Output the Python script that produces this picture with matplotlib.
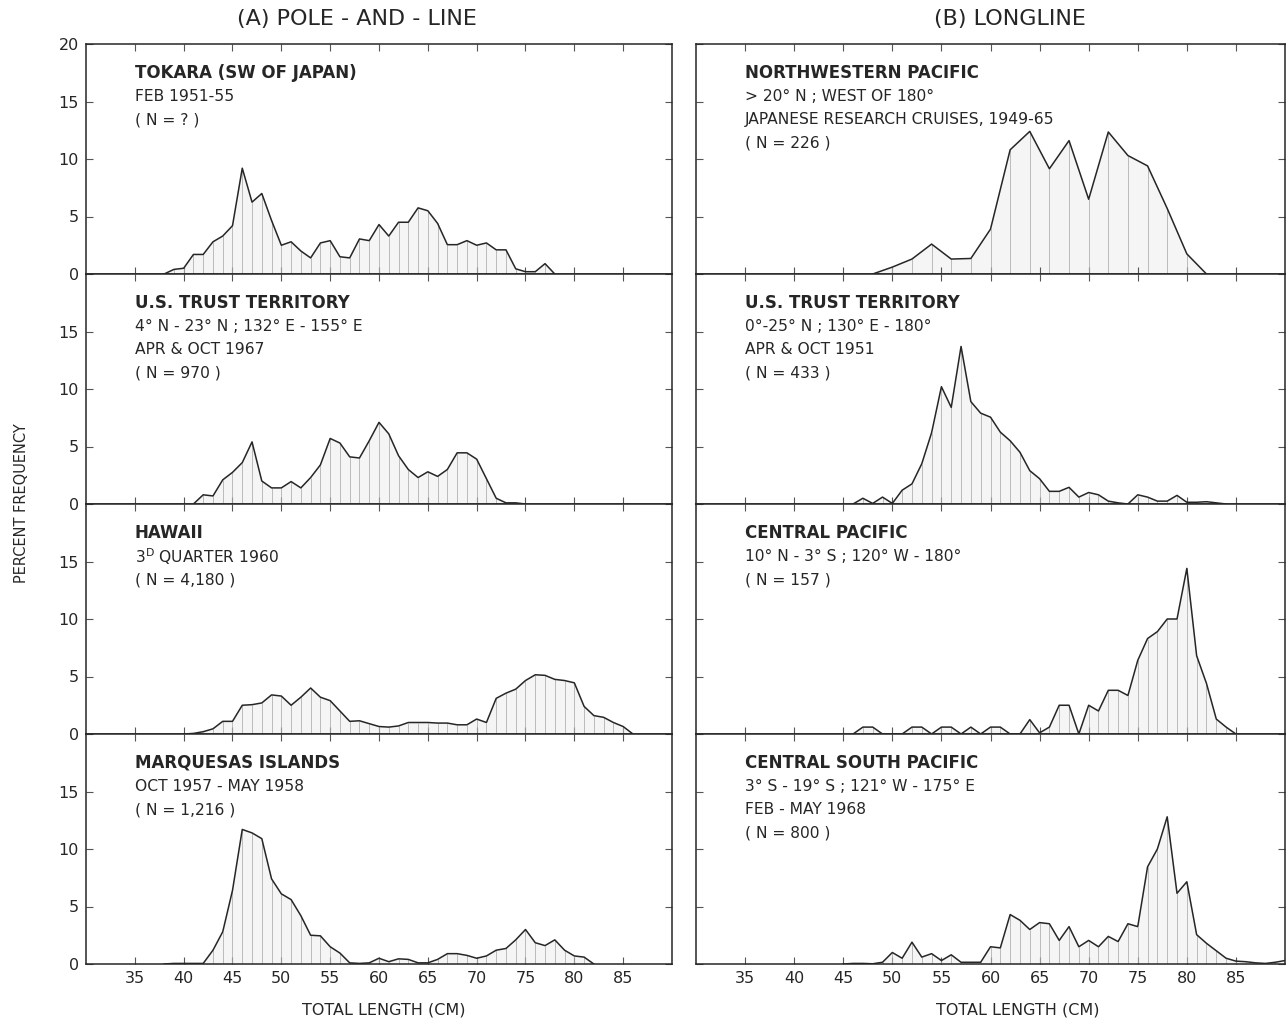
import numpy as np
import matplotlib
matplotlib.use("Agg")
import matplotlib.pyplot as plt

plt.rcParams['font.family'] = ['DejaVu Sans']

# ---- data: percent frequency by total length (cm) ----
tokara_x = list(range(38, 79))
tokara_y = [0, 0.4, 0.5, 1.7, 1.7, 2.8, 3.3, 4.2, 9.2, 6.25, 7.0, 4.65, 2.5, 2.8, 2.0, 1.4,
            2.7, 2.9, 1.5, 1.4, 3.05, 2.9, 4.3, 3.3, 4.5, 4.5, 5.75, 5.5, 4.4, 2.55, 2.55,
            2.9, 2.5, 2.7, 2.1, 2.1, 0.45, 0.2, 0.2, 0.9, 0]

trust67_x = list(range(41, 76))
trust67_y = [0, 0.8, 0.7, 2.1, 2.75, 3.6, 5.4, 2.0, 1.4, 1.4, 1.95, 1.4, 2.3, 3.4, 5.7, 5.3,
             4.1, 4.0, 5.5, 7.1, 6.1, 4.2, 3.0, 2.3, 2.8, 2.4, 3.0, 4.45, 4.45, 3.9, 2.2,
             0.5, 0.1, 0.1, 0]

hawaii_x = list(range(40, 87))
hawaii_y = [0, 0.05, 0.2, 0.45, 1.1, 1.1, 2.5, 2.55, 2.7, 3.4, 3.3, 2.5, 3.2, 4.0, 3.2, 2.9,
            2.0, 1.1, 1.15, 0.9, 0.65, 0.6, 0.7, 1.0, 1.0, 1.0, 0.95, 0.95, 0.8, 0.8, 1.3,
            1.0, 3.1, 3.55, 3.9, 4.65, 5.15, 5.1, 4.75, 4.65, 4.45, 2.4, 1.6, 1.45, 1.0,
            0.65, 0]

marq_x = list(range(38, 83))
marq_y = [0, 0.05, 0.05, 0.05, 0.05, 1.2, 2.8, 6.4, 11.7, 11.4, 10.9, 7.4, 6.1, 5.6, 4.2,
          2.5, 2.45, 1.5, 0.95, 0.1, 0.05, 0.1, 0.5, 0.2, 0.45, 0.4, 0.1, 0.1, 0.4, 0.9,
          0.9, 0.75, 0.5, 0.7, 1.2, 1.35, 2.1, 3.0, 1.85, 1.6, 2.1, 1.2, 0.7, 0.6, 0]

nwp_x = list(range(48, 83, 2))
nwp_y = [0, 0.6, 1.3, 2.6, 1.3, 1.35, 3.9, 10.8, 12.4, 9.15, 11.6, 6.5, 12.35, 10.3, 9.4,
         5.7, 1.75, 0]

trust51_x = list(range(46, 85))
trust51_y = [0, 0.5, 0.05, 0.6, 0.05, 1.2, 1.75, 3.5, 6.2, 10.2, 8.4, 13.7, 8.9, 7.9, 7.55,
             6.25, 5.5, 4.5, 2.9, 2.2, 1.1, 1.1, 1.45, 0.6, 1.0, 0.8, 0.25, 0.1, 0, 0.8,
             0.6, 0.25, 0.25, 0.75, 0.15, 0.15, 0.2, 0.1, 0]

cp_x = list(range(46, 86))
cp_y = [0, 0.6, 0.6, 0, 0, 0, 0.6, 0.6, 0, 0.6, 0.6, 0, 0.6, 0, 0.6, 0.6, 0, 0, 1.25, 0.1,
        0.6, 2.5, 2.5, 0, 2.5, 2.0, 3.8, 3.8, 3.35, 6.4, 8.3, 8.9, 10.0, 10.0, 14.4, 6.8,
        4.4, 1.3, 0.6, 0]

csp_x = list(range(45, 91))
csp_y = [0, 0.05, 0.05, 0.02, 0.15, 1.0, 0.5, 1.9, 0.6, 0.9, 0.3, 0.8, 0.15, 0.15, 0.15,
         1.5, 1.4, 4.3, 3.8, 3.0, 3.6, 3.5, 2.05, 3.25, 1.5, 2.05, 1.5, 2.4, 1.95, 3.5,
         3.25, 8.45, 10.0, 12.8, 6.15, 7.15, 2.55, 1.8, 1.15, 0.5, 0.25, 0.2, 0.1, 0.05,
         0.15, 0.3]

left_series = [(tokara_x, tokara_y), (trust67_x, trust67_y), (hawaii_x, hawaii_y), (marq_x, marq_y)]
right_series = [(nwp_x, nwp_y), (trust51_x, trust51_y), (cp_x, cp_y), (csp_x, csp_y)]

left_text = [
    ["TOKARA (SW OF JAPAN)", "FEB 1951-55", "( N = ? )"],
    ["U.S. TRUST TERRITORY", "4° N - 23° N ; 132° E - 155° E", "APR & OCT 1967", "( N = 970 )"],
    ["HAWAII", r"3$^\mathregular{D}$ QUARTER 1960", "( N = 4,180 )"],
    ["MARQUESAS ISLANDS", "OCT 1957 - MAY 1958", "( N = 1,216 )"],
]
right_text = [
    ["NORTHWESTERN PACIFIC", "> 20° N ; WEST OF 180°", "JAPANESE RESEARCH CRUISES, 1949-65", "( N = 226 )"],
    ["U.S. TRUST TERRITORY", "0°-25° N ; 130° E - 180°", "APR & OCT 1951", "( N = 433 )"],
    ["CENTRAL PACIFIC", "10° N - 3° S ; 120° W - 180°", "( N = 157 )"],
    ["CENTRAL SOUTH PACIFIC", "3° S - 19° S ; 121° W - 175° E", "FEB - MAY 1968", "( N = 800 )"],
]

xticks = [35, 40, 45, 50, 55, 60, 65, 70, 75, 80, 85]

W, H = 1288, 1024
fig = plt.figure(figsize=(W / 100, H / 100), dpi=100)
ink = '#262626'

cols = [(86, 672), (696, 1285)]
top_px, row_h = 44, 230

for c, (series, texts) in enumerate([(left_series, left_text), (right_series, right_text)]):
    x0, x1 = cols[c]
    for r in range(4):
        y_top = top_px + r * row_h
        ax = fig.add_axes([x0 / W, 1 - (y_top + row_h) / H, (x1 - x0) / W, row_h / H])
        xs, ys = series[r]
        ax.fill_between(xs, ys, 0, color='#f5f5f5', lw=0)
        ax.vlines(xs, 0, ys, color='#ababab', lw=0.55)
        ax.plot(xs, ys, color=ink, lw=1.1)
        ax.set_xlim(30, 90)
        ax.set_ylim(0, 20)
        ax.set_xticks(xticks)
        ax.set_yticks([0, 5, 10, 15, 20])
        ax.tick_params(direction='in', length=5, width=0.8, color='#555555',
                       top=True, right=True, labelsize=11.5, pad=5, labelcolor=ink)
        if r < 3:
            ax.set_xticklabels([])
        if c == 1:
            ax.set_yticklabels([])
        elif r > 0:
            ax.set_yticklabels(['0', '5', '10', '15', ''])
        for s in ax.spines.values():
            s.set_color(ink)
            s.set_linewidth(1.1)
        for i, t in enumerate(texts[r]):
            ax.text(0.083, 0.874 - i * 0.102, t, transform=ax.transAxes,
                    fontsize=12 if i == 0 else 11.2, color=ink, va='center', ha='left',
                    fontweight='bold' if i == 0 else 'normal')

fig.text(357 / W, 1 - 19 / H, "(A) POLE - AND - LINE", ha='center', va='center', fontsize=16, color=ink)
fig.text(1010 / W, 1 - 19 / H, "(B) LONGLINE", ha='center', va='center', fontsize=16, color=ink)
fig.text(22 / W, 1 - 503 / H, "PERCENT FREQUENCY", rotation=90, ha='center', va='center', fontsize=10.5, color=ink)
fig.text(384 / W, 1 - 1010 / H, "TOTAL LENGTH (CM)", ha='center', va='center', fontsize=11.5, color=ink)
fig.text(1018 / W, 1 - 1010 / H, "TOTAL LENGTH (CM)", ha='center', va='center', fontsize=11.5, color=ink)

fig.savefig("out.png", dpi=100, facecolor='white')
